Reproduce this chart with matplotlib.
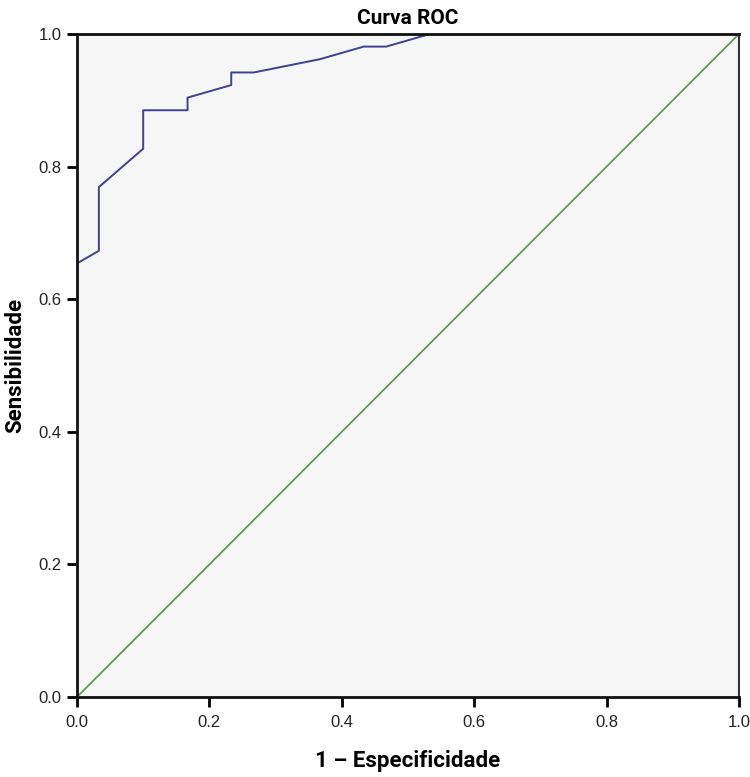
import matplotlib.pyplot as plt

# ROC curve points (1 - especificidade, sensibilidade)
fpr = [0.0, 0.0, 0.033, 0.033, 0.1, 0.1, 0.167, 0.167, 0.233, 0.233,
       0.267, 0.367, 0.433, 0.467, 0.533, 1.0]
tpr = [0.0, 0.654, 0.673, 0.769, 0.827, 0.885, 0.885, 0.904, 0.923, 0.942,
       0.942, 0.962, 0.981, 0.981, 1.0, 1.0]
ref_line = [0.0, 1.0]
ticks = [0.0, 0.2, 0.4, 0.6, 0.8, 1.0]
tick_labels = ["0.0", "0.2", "0.4", "0.6", "0.8", "1.0"]

cond = ['Roboto', 'DejaVu Sans']

fig = plt.figure(figsize=(7.5, 7.77), dpi=100)
ax = fig.add_axes([77 / 750, 80 / 777, 662 / 750, 663 / 777])
ax.set_facecolor('#f6f6f6')

ax.plot(ref_line, ref_line, color='#5f9b52', lw=1.3, zorder=2)
ax.plot(fpr, tpr, color='#3d4290', lw=1.4, zorder=2)

ax.set_xlim(0, 1)
ax.set_ylim(0, 1)
ax.set_xticks(ticks)
ax.set_xticklabels(tick_labels)
ax.set_yticks(ticks)
ax.set_yticklabels(tick_labels)
ax.tick_params(length=7, width=2, labelsize=12, colors='black')
ax.tick_params(axis='x', pad=6)
ax.tick_params(axis='y', pad=4)
for lab in ax.get_xticklabels() + ax.get_yticklabels():
    lab.set_family(['Liberation Sans', 'DejaVu Sans'])
    lab.set_color('#222222')

for side in ['left', 'bottom', 'top']:
    ax.spines[side].set_linewidth(2)
    ax.spines[side].set_color('#111111')
ax.spines['right'].set_linewidth(1.5)
ax.spines['right'].set_color('#333333')

ax.set_title('Curva ROC', fontsize=15, fontweight='bold', family=cond, pad=7)
ax.set_xlabel('1 \u2013 Especificidade', fontsize=16, fontweight='bold',
              family=cond, labelpad=14)
ax.set_ylabel('Sensibilidade', fontsize=16, fontweight='bold',
              family=cond, labelpad=9)

fig.savefig('out.png', dpi=100)
